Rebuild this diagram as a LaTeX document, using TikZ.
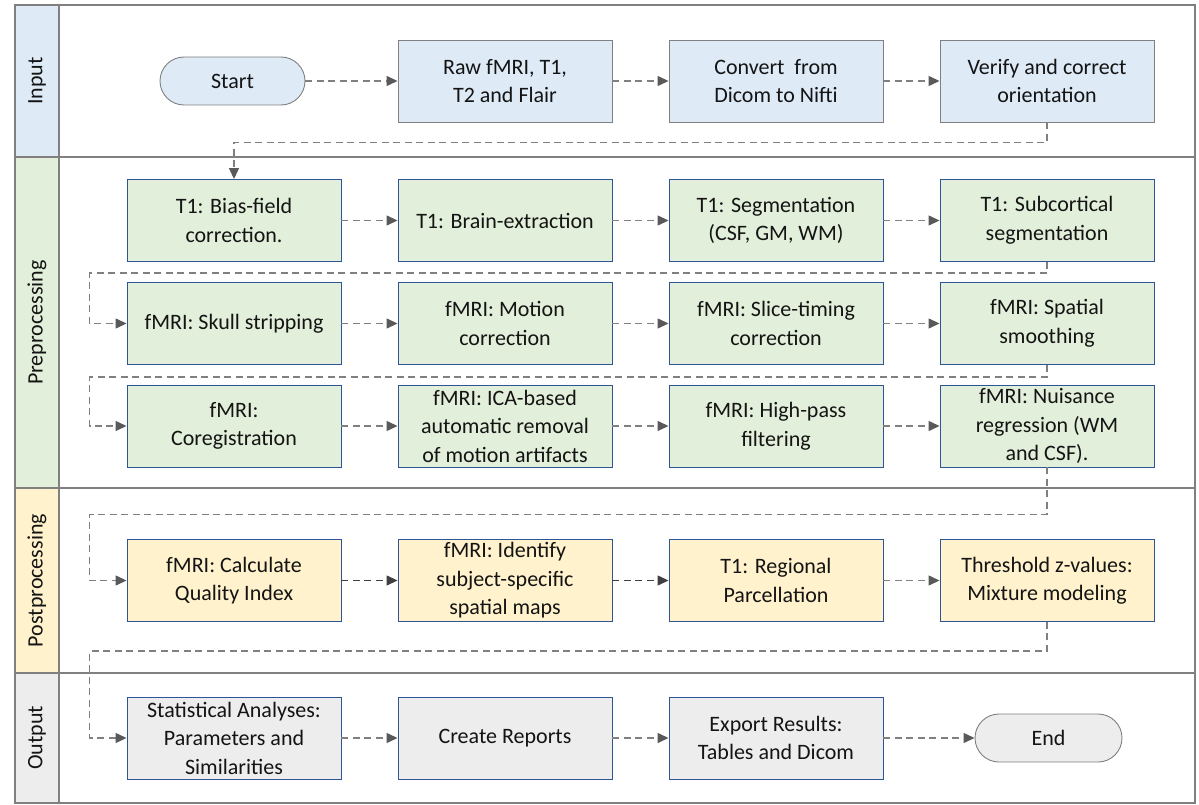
\documentclass[tikz,border=0pt]{standalone}
\usepackage{fontspec}
\setmainfont{Carlito}
\usetikzlibrary{arrows.meta}
\definecolor{inbl}{HTML}{DEEBF7}
\definecolor{prgr}{HTML}{E2EFDA}
\definecolor{poye}{HTML}{FFF2CC}
\definecolor{ougr}{HTML}{EDEDED}
\definecolor{bxbd}{HTML}{2F5597}
\definecolor{frame}{HTML}{808080}
\definecolor{conc}{HTML}{808080}
\definecolor{tipc}{HTML}{595959}
\definecolor{darkc}{HTML}{404040}
\tikzset{
  box/.style={draw=bxbd, line width=0.9pt, minimum width=214pt, minimum height=82pt,
    inner sep=0pt, align=center, font=\fontsize{22}{28.5}\selectfont, text=black!92},
  inbox/.style={box, draw=frame},
  term/.style={draw=frame, line width=0.9pt, rounded corners=24pt, minimum height=48pt,
    inner sep=0pt, align=center, font=\fontsize{22}{28}\selectfont, text=black!92},
  lanelabel/.style={rotate=90, font=\fontsize{22}{28}\selectfont, text=black!92},
  conn/.style={draw=conc, line width=1.3pt, dash pattern=on 7pt off 4.5pt,
    -{Triangle[length=11pt,width=10pt,color=tipc,fill=tipc]}},
  conndark/.style={conn, draw=darkc, -{Triangle[length=11pt,width=10pt,color=darkc,fill=darkc]}},
  laneline/.style={draw=frame, line width=1.4pt}
}
\begin{document}
\begin{tikzpicture}[x=1pt,y=-1pt]
\useasboundingbox (0,0) rectangle (1199,805);
% lane label fills
\fill[inbl] (15,5) rectangle (59,157);
\fill[prgr] (15,157) rectangle (59,488);
\fill[poye] (15,488) rectangle (59,673);
\fill[ougr] (15,673) rectangle (59,803);
% frame and lane lines
\draw[laneline] (15,5) rectangle (1195,803);
\draw[laneline] (59,5) -- (59,803);
\draw[laneline] (15,157) -- (1195,157);
\draw[laneline] (15,488) -- (1195,488);
\draw[laneline] (15,673) -- (1195,673);
% lane labels
\node[lanelabel] (lin) at (37,81) {Input};
\node[lanelabel] (lpre) at (37,322.5) {Preprocessing};
\node[lanelabel] (lpost) at (37,580.5) {Postprocessing};
\node[lanelabel] (lout) at (37,738) {Output};
% input row
\node[term, fill=inbl, minimum width=145pt] (start) at (232.5,81) {Start};
\node[inbox, fill=inbl] (raw) at (505,81) {Raw fMRI, T1,\\T2 and Flair};
\node[inbox, fill=inbl] (conv) at (776,81) {Convert\ \ from\\Dicom to Nifti};
\node[inbox, fill=inbl] (veri) at (1047,81) {Verify and correct\\orientation};
% preprocessing row 1
\node[box, fill=prgr] (bias) at (234,220.5) {T1: Bias-field\\correction.};
\node[box, fill=prgr] (brain) at (505,220.5) {T1: Brain-extraction};
\node[box, fill=prgr] (seg) at (776,220.5) {T1: Segmentation\\(CSF, GM, WM)};
\node[box, fill=prgr] (sub) at (1047,220.5) {T1: Subcortical\\segmentation};
% row 2
\node[box, fill=prgr] (skull) at (234,323.5) {fMRI: Skull stripping};
\node[box, fill=prgr] (motion) at (505,323.5) {fMRI: Motion\\correction};
\node[box, fill=prgr] (slice) at (776,323.5) {fMRI: Slice-timing\\correction};
\node[box, fill=prgr] (smooth) at (1047,323.5) {fMRI: Spatial\\smoothing};
% row 3
\node[box, fill=prgr] (coreg) at (234,426) {fMRI:\\Coregistration};
\node[box, fill=prgr] (ica) at (505,426) {fMRI: ICA-based\\automatic removal\\of motion artifacts};
\node[box, fill=prgr] (hp) at (776,426) {fMRI: High-pass\\filtering};
\node[box, fill=prgr] (nuis) at (1047,426) {fMRI: Nuisance\\regression (WM\\and CSF).};
% postprocessing
\node[box, fill=poye] (qual) at (234,580.5) {fMRI: Calculate\\Quality Index};
\node[box, fill=poye] (ident) at (505,580.5) {fMRI: Identify\\subject-specific\\spatial maps};
\node[box, fill=poye] (parc) at (776,580.5) {T1: Regional\\Parcellation};
\node[box, fill=poye] (thr) at (1047,580.5) {Threshold z-values:\\Mixture modeling};
% output
\node[box, fill=ougr] (stat) at (234,738) {Statistical Analyses:\\Parameters and\\Similarities};
\node[box, fill=ougr] (rep) at (505,738) {Create Reports};
\node[box, fill=ougr] (exp) at (776,738) {Export Results:\\Tables and Dicom};
\node[term, fill=ougr, minimum width=147pt] (end) at (1048.5,738) {End};
% connectors
\draw[conn] (start) -- (raw);
\draw[conn] (raw) -- (conv);
\draw[conn] (conv) -- (veri);
\draw[conn] (veri.south) -- ++(0,20) -| (bias.north);
\draw[conn] (bias) -- (brain);
\draw[conn] (brain) -- (seg);
\draw[conn] (seg) -- (sub);
\draw[conn] (sub.south) -- ++(0,11) -| ([xshift=-37pt]skull.west) -- (skull.west);
\draw[conn] (skull) -- (motion);
\draw[conn] (motion) -- (slice);
\draw[conn] (slice) -- (smooth);
\draw[conn] (smooth.south) -- ++(0,12) -| ([xshift=-37pt]coreg.west) -- (coreg.west);
\draw[conn] (coreg) -- (ica);
\draw[conn] (ica) -- (hp);
\draw[conn] (hp) -- (nuis);
\draw[conn] (nuis.south) -- ++(0,47) -| ([xshift=-37pt]qual.west) -- (qual.west);
\draw[conndark] (qual) -- (ident);
\draw[conndark] (ident) -- (parc);
\draw[conn] (parc) -- (thr);
\draw[conn] (thr.south) -- ++(0,29) -| ([xshift=-37pt]stat.west) -- (stat.west);
\draw[conn] (stat) -- (rep);
\draw[conn] (rep) -- (exp);
\draw[conn] (exp) -- (end);
\end{tikzpicture}
\end{document}
